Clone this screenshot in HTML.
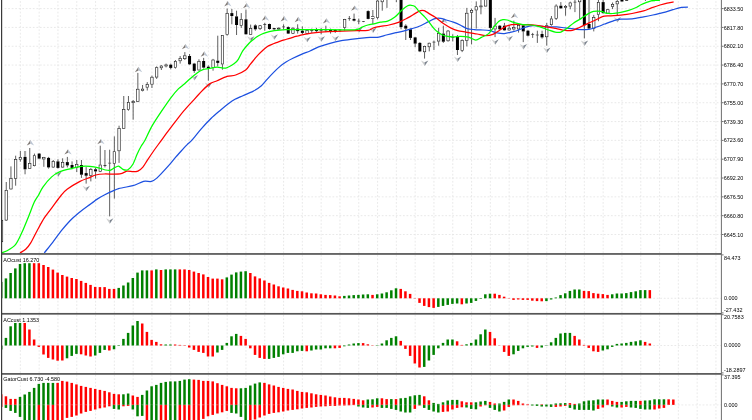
<!DOCTYPE html>
<html><head><meta charset="utf-8"><title>chart</title>
<style>html,body{margin:0;padding:0;background:#fff;overflow:hidden}body{width:752px;height:420px;font-family:"Liberation Sans",sans-serif}svg{display:block}</style>
</head><body>
<svg width="752" height="420" viewBox="0 0 752 420" style="display:block">
<rect x="0" y="0" width="752" height="420" fill="#ffffff"/>
<path d="M20.35 0V420M39.15 0V420M57.95 0V420M76.75 0V420M95.55 0V420M114.35 0V420M133.15 0V420M151.95 0V420M170.75 0V420M189.55 0V420M208.35 0V420M227.15 0V420M245.95 0V420M264.75 0V420M283.55 0V420M302.35 0V420M321.15 0V420M339.95 0V420M358.75 0V420M377.55 0V420M396.35 0V420M415.15 0V420M433.95 0V420M452.75 0V420M471.55 0V420M490.35 0V420M509.15 0V420M527.95 0V420M546.75 0V420M565.55 0V420M584.35 0V420M603.15 0V420M621.95 0V420M640.75 0V420M659.55 0V420M678.35 0V420M697.15 0V420M715.95 0V420M3.545 8.60H721M3.545 27.42H721M3.545 46.25H721M3.545 65.07H721M3.545 83.90H721M3.545 102.72H721M3.545 121.55H721M3.545 140.38H721M3.545 159.20H721M3.545 178.02H721M3.545 196.85H721M3.545 215.67H721M3.545 234.50H721M3.545 298.30H721M3.545 345.50H721M3.545 404.90H721" stroke="#e0e0e0" stroke-width="0.7" stroke-dasharray="1.76 1.765" stroke-dashoffset="-1.1" fill="none"/>
<rect x="23.95" y="151" width="2.2" height="5.90" fill="#a8a8a8"/><rect x="588.05" y="-5" width="2" height="29" fill="#a8a8a8"/>
<path d="M1.55 219V220M1.55 242V243M6.25 182V190M6.25 220.4V221M10.95 166.4V178.3M10.95 189.3V189.6M15.65 155.7V159.3M15.65 178.6V185.7M20.35 151V157.1M20.35 159.9V161.7M25.05 169.3V174.3M29.75 148V163.3M29.75 168.6V168.8M34.45 153.6V155.4M34.45 166V166.4M39.15 153V153.6M39.15 158.6V159.3M43.85 156.9V157.1M43.85 159.3V166.8M48.55 156.9V157.9M48.55 167.4V168.6M53.25 160V161.1M53.25 167.4V167.9M57.95 159.3V161.4M57.95 167.9V168.6M62.65 158.3V162.1M62.65 167.4V167.9M67.35 156.9V162.1M67.35 165.4V167.4M72.05 161.4V165M72.05 167.9V169.3M76.75 160V164M76.75 167.9V172.1M81.45 160V165M81.45 174.7V177.9M86.15 167.1V173.1M86.15 175.7V183.6M90.85 167.9V169.3M90.85 175.7V181.4M95.55 167.9V169.3M95.55 171.4V178.6M100.25 145.7V164.7M100.25 171.7V172.1M104.95 150V165M104.95 165.8V167.4M104.95 165V165.8M109.65 149.7V162.8M109.65 163.4V216.4M109.65 162.8V163.4M114.35 136.4V151.4M114.35 163.6V198.6M119.05 125.7V128.3M119.05 151.1V162.9M123.75 96V109.3M123.75 128.6V128.8M128.45 96V102.1M128.45 109.7V110.7M133.15 100V101.3M133.15 103V119.7M137.85 72.9V88.9M137.85 101.7V102.1M142.55 85V88.8M142.55 90.8V91.4M147.25 82.1V84.3M147.25 87.5V90.5M151.95 75.7V76.9M151.95 84.5V88M156.65 66.4V67.4M156.65 77.4V78.9M161.35 65V65.7M161.35 68.1V70M166.05 63.6V64.6M166.05 66.3V67.4M170.75 63.6V64.7M170.75 67.9V69.3M175.45 60V61.1M175.45 67.9V68.6M180.15 56V58.3M180.15 61.1V63.6M184.85 52.1V55.5M184.85 59V60M189.55 54V56M189.55 64.3V65M194.25 62.9V63.6M194.25 70.9V72.9M198.95 59.3V61M198.95 70.3V70.7M203.65 57.9V61M203.65 67.6V68.6M208.35 65.4V66.7M208.35 68.1V80.7M213.05 58.9V59.7M213.05 67.9V70.7M217.75 35.7V60.7M217.75 62.9V66.4M222.45 35V35.1M222.45 64.3V69.7M227.15 8.6V13.1M227.15 35V35.7M231.85 8.9V13.1M231.85 16V24.3M236.55 10.7V16.4M236.55 25V35M241.25 13.1V19.3M241.25 25.7V27.9M245.95 9.7V19.3M245.95 34.3V34.5M250.65 24.6V28.3M250.65 34.7V34.9M255.35 24.3V25.4M255.35 29.3V30.7M260.05 25V25.4M260.05 29V30M264.75 22.9V24.3M264.75 25V30.7M264.75 24.3V25M269.45 23.6V24M269.45 29V29.7M274.15 27.9V28.1M274.15 29.3V30M278.85 27.1V27.9M278.85 29.4V30M283.55 24.3V26.6M283.55 27.2V29.3M283.55 26.6V27.2M288.25 26.4V27.1M288.25 33.6V34M292.95 27.1V27.9M292.95 33.6V34M297.65 24.3V28.6M297.65 31.1V33.6M302.35 26.4V30.7M302.35 32.9V34M307.05 29.3V30.3M307.05 33.6V34.3M311.75 28.6V29.3M311.75 30.7V32.9M316.45 27.9V29.3M316.45 31.1V32.6M321.15 27.9V30M321.15 30.6V34.3M321.15 30V30.6M325.85 25.7V29.7M325.85 30.3V32.1M325.85 29.7V30.3M330.55 28.6V30M330.55 31.7V33.6M335.25 29.3V30M335.25 31.4V32.9M339.95 29.3V29.7M339.95 30.3V32.1M339.95 29.7V30.3M344.65 18.9V19.3M344.65 27.9V30.7M349.35 16V18.3M349.35 18.9V20.7M349.35 18.3V18.9M354.05 13.6V18.9M354.05 20.7V21.4M358.75 18.6V20.8M358.75 21.4V24.3M358.75 20.8V21.4M363.45 21V21.1M363.45 21.7V22.1M363.45 21.1V21.7M368.15 10.3V11.1M368.15 18.9V19.3M372.85 10V16.4M372.85 18.6V24.3M377.55 -2V0.7M377.55 17.9V19.3M382.25 -5V-3M382.25 2.1V10.7M386.95 -8V-6M386.95 -1V7.9M396.35 -10V-8M396.35 -3V2.1M401.05 -5V-3M401.05 27.1V29.3M405.75 24.3V25.7M405.75 28.6V40M410.45 28.6V29.3M410.45 37.9V40M415.15 36.9V37.4M415.15 43.6V47.1M419.85 42.1V42.9M419.85 51.4V52.1M424.55 45.7V46M424.55 52.1V58.6M429.25 42.6V42.9M429.25 47.1V51.4M433.95 40.7V41.8M433.95 42.4V50M433.95 41.8V42.4M438.65 27.9V33.1M438.65 41.4V45.7M443.35 25.7V33.6M443.35 41.7V42.9M448.05 30V30.7M448.05 41.1V41.7M452.75 34.3V37M452.75 37.6V41.4M452.75 37V37.6M457.45 35V36.4M457.45 50V55M462.15 39.3V40M462.15 50.7V52.1M466.85 7.9V12.9M466.85 40.7V46.4M471.55 8.6V10M471.55 12.6V44.3M476.25 1.4V6.4M476.25 10.3V28.6M480.95 -2V5.6M480.95 7.2V14.3M485.65 -5V-3M485.65 6.4V6.6M490.35 -5V-3M490.35 27.9V30.7M495.05 17.9V25.7M495.05 29.3V37.1M499.75 25V25.7M499.75 29.3V30M504.45 22.9V25.7M504.45 30.3V30.7M509.15 25V27.9M509.15 30.3V30.7M513.85 20.7V27.1M513.85 29.3V30.7M518.55 24.3V25M518.55 29.3V32.6M523.25 24.3V25.4M523.25 31.4V42.1M527.95 30V30.7M527.95 35.7V36.4M532.65 32.9V34.4M532.65 35V37.9M532.65 34.4V35M537.35 30.7V34.7M537.35 35.3V42.9M537.35 34.7V35.3M542.05 30.7V34M542.05 37.4V38.6M546.75 22.9V25.4M546.75 37.1V45.7M551.45 16V18.6M551.45 25V25.7M556.15 4.3V5.7M556.15 18.6V20M560.85 2.1V5.7M560.85 8.3V8.9M565.55 5V6M565.55 7.9V15.7M570.25 1.7V2.6M570.25 6.4V9.3M574.95 -2V1.8M574.95 2.4V12.1M574.95 1.8V2.4M579.65 -5V-3M579.65 2.1V20M584.35 -5V-3M584.35 25.2V38.4M593.75 14.9V17.2M593.75 28.6V31.4M598.45 -2V2.1M598.45 14.9V21.2M603.15 -2V2.1M603.15 13.1V13.7M607.85 8.9V9.4M607.85 13.5V14M612.55 2.5V4.1M612.55 6.7V9.1M617.25 -2V1.1M617.25 4.2V16M621.95 -3V-2M621.95 1.5V1.7M626.65 -3V-2M626.65 0.7V0.9M645.45 -3V-2.5M645.45 -2V0.9M645.45 -2.5V-2" stroke="#1a1a1a" stroke-width="0.7" fill="none"/>
<g fill="#fff" stroke="#111" stroke-width="0.6"><rect x="0.35" y="220.30" width="2.40" height="21.40"/><rect x="5.05" y="190.30" width="2.40" height="29.80"/><rect x="9.75" y="178.60" width="2.40" height="10.40"/><rect x="14.45" y="159.60" width="2.40" height="18.70"/><rect x="19.15" y="157.40" width="2.40" height="2.20"/><rect x="28.55" y="163.60" width="2.40" height="4.70"/><rect x="33.25" y="155.70" width="2.40" height="10.00"/><rect x="42.65" y="157.40" width="2.40" height="1.60"/><rect x="52.05" y="161.40" width="2.40" height="5.70"/><rect x="61.45" y="162.40" width="2.40" height="4.70"/><rect x="75.55" y="164.30" width="2.40" height="3.30"/><rect x="89.65" y="169.60" width="2.40" height="5.80"/><rect x="99.05" y="165.00" width="2.40" height="6.40"/><rect x="113.15" y="151.70" width="2.40" height="11.60"/><rect x="117.85" y="128.60" width="2.40" height="22.20"/><rect x="122.55" y="109.60" width="2.40" height="18.70"/><rect x="127.25" y="102.40" width="2.40" height="7.00"/><rect x="131.95" y="101.60" width="2.40" height="1.10"/><rect x="136.65" y="89.20" width="2.40" height="12.20"/><rect x="141.35" y="89.10" width="2.40" height="1.40"/><rect x="146.05" y="84.60" width="2.40" height="2.60"/><rect x="150.75" y="77.20" width="2.40" height="7.00"/><rect x="155.45" y="67.70" width="2.40" height="9.40"/><rect x="160.15" y="66.00" width="2.40" height="1.80"/><rect x="164.85" y="64.90" width="2.40" height="1.10"/><rect x="174.25" y="61.40" width="2.40" height="6.20"/><rect x="178.95" y="58.60" width="2.40" height="2.20"/><rect x="183.65" y="55.80" width="2.40" height="2.90"/><rect x="197.75" y="61.30" width="2.40" height="8.70"/><rect x="211.85" y="60.00" width="2.40" height="7.60"/><rect x="221.25" y="35.40" width="2.40" height="28.60"/><rect x="225.95" y="13.40" width="2.40" height="21.30"/><rect x="240.05" y="19.60" width="2.40" height="5.80"/><rect x="249.45" y="28.60" width="2.40" height="5.80"/><rect x="258.85" y="25.70" width="2.40" height="3.00"/><rect x="277.65" y="28.20" width="2.40" height="0.90"/><rect x="291.75" y="28.20" width="2.40" height="5.10"/><rect x="305.85" y="30.60" width="2.40" height="2.70"/><rect x="343.45" y="19.60" width="2.40" height="8.00"/><rect x="371.65" y="16.70" width="2.40" height="1.60"/><rect x="376.35" y="1.00" width="2.40" height="16.60"/><rect x="381.05" y="-2.70" width="2.40" height="4.50"/><rect x="385.75" y="-5.70" width="2.40" height="4.40"/><rect x="395.15" y="-7.70" width="2.40" height="4.40"/><rect x="423.35" y="46.30" width="2.40" height="5.50"/><rect x="428.05" y="43.20" width="2.40" height="3.60"/><rect x="437.45" y="33.40" width="2.40" height="7.70"/><rect x="446.85" y="31.00" width="2.40" height="9.80"/><rect x="460.95" y="40.30" width="2.40" height="10.10"/><rect x="465.65" y="13.20" width="2.40" height="27.20"/><rect x="470.35" y="10.30" width="2.40" height="2.00"/><rect x="475.05" y="6.70" width="2.40" height="3.30"/><rect x="479.75" y="5.90" width="2.40" height="1.00"/><rect x="484.45" y="-2.70" width="2.40" height="8.80"/><rect x="493.85" y="26.00" width="2.40" height="3.00"/><rect x="507.95" y="28.20" width="2.40" height="1.80"/><rect x="512.65" y="27.40" width="2.40" height="1.60"/><rect x="517.35" y="25.30" width="2.40" height="3.70"/><rect x="545.55" y="25.70" width="2.40" height="11.10"/><rect x="550.25" y="18.90" width="2.40" height="5.80"/><rect x="554.95" y="6.00" width="2.40" height="12.30"/><rect x="564.35" y="6.30" width="2.40" height="1.30"/><rect x="569.05" y="2.90" width="2.40" height="3.20"/><rect x="578.45" y="-2.70" width="2.40" height="4.50"/><rect x="592.55" y="17.50" width="2.40" height="10.80"/><rect x="597.25" y="2.40" width="2.40" height="12.20"/><rect x="606.65" y="9.70" width="2.40" height="3.50"/><rect x="611.35" y="4.40" width="2.40" height="2.00"/><rect x="616.05" y="1.40" width="2.40" height="2.50"/></g>
<rect x="23.55" y="156.9" width="3.0" height="12.40" fill="#000"/><rect x="37.65" y="153.6" width="3.0" height="5.00" fill="#000"/><rect x="47.05" y="157.9" width="3.0" height="9.50" fill="#000"/><rect x="56.45" y="161.4" width="3.0" height="6.50" fill="#000"/><rect x="65.85" y="162.1" width="3.0" height="3.30" fill="#000"/><rect x="70.55" y="165" width="3.0" height="2.90" fill="#000"/><rect x="79.95" y="165" width="3.0" height="9.70" fill="#000"/><rect x="84.65" y="173.1" width="3.0" height="2.60" fill="#000"/><rect x="94.05" y="169.3" width="3.0" height="2.10" fill="#000"/><rect x="103.45" y="165" width="3.0" height="0.80" fill="#222"/><rect x="108.15" y="162.8" width="3.0" height="0.60" fill="#222"/><rect x="169.25" y="64.7" width="3.0" height="3.20" fill="#000"/><rect x="188.05" y="56" width="3.0" height="8.30" fill="#000"/><rect x="192.75" y="63.6" width="3.0" height="7.30" fill="#000"/><rect x="202.15" y="61" width="3.0" height="6.60" fill="#000"/><rect x="206.85" y="66.7" width="3.0" height="1.40" fill="#000"/><rect x="216.25" y="60.7" width="3.0" height="2.20" fill="#000"/><rect x="230.35" y="13.1" width="3.0" height="2.90" fill="#000"/><rect x="235.05" y="16.4" width="3.0" height="8.60" fill="#000"/><rect x="244.45" y="19.3" width="3.0" height="15.00" fill="#000"/><rect x="253.85" y="25.4" width="3.0" height="3.90" fill="#000"/><rect x="263.25" y="24.3" width="3.0" height="0.70" fill="#222"/><rect x="267.95" y="24" width="3.0" height="5.00" fill="#000"/><rect x="272.65" y="28.1" width="3.0" height="1.20" fill="#000"/><rect x="282.05" y="26.6" width="3.0" height="0.60" fill="#222"/><rect x="286.75" y="27.1" width="3.0" height="6.50" fill="#000"/><rect x="296.15" y="28.6" width="3.0" height="2.50" fill="#000"/><rect x="300.85" y="30.7" width="3.0" height="2.20" fill="#000"/><rect x="310.25" y="29.3" width="3.0" height="1.40" fill="#000"/><rect x="314.95" y="29.3" width="3.0" height="1.80" fill="#000"/><rect x="319.65" y="30" width="3.0" height="0.60" fill="#222"/><rect x="324.35" y="29.7" width="3.0" height="0.60" fill="#222"/><rect x="329.05" y="30" width="3.0" height="1.70" fill="#000"/><rect x="333.75" y="30" width="3.0" height="1.40" fill="#000"/><rect x="338.45" y="29.7" width="3.0" height="0.60" fill="#222"/><rect x="347.85" y="18.3" width="3.0" height="0.60" fill="#222"/><rect x="352.55" y="18.9" width="3.0" height="1.80" fill="#000"/><rect x="357.25" y="20.8" width="3.0" height="0.60" fill="#222"/><rect x="361.95" y="21.1" width="3.0" height="0.60" fill="#222"/><rect x="366.65" y="11.1" width="3.0" height="7.80" fill="#000"/><rect x="399.55" y="-3" width="3.0" height="30.10" fill="#000"/><rect x="404.25" y="25.7" width="3.0" height="2.90" fill="#000"/><rect x="408.95" y="29.3" width="3.0" height="8.60" fill="#000"/><rect x="413.65" y="37.4" width="3.0" height="6.20" fill="#000"/><rect x="418.35" y="42.9" width="3.0" height="8.50" fill="#000"/><rect x="432.45" y="41.8" width="3.0" height="0.60" fill="#222"/><rect x="441.85" y="33.6" width="3.0" height="8.10" fill="#000"/><rect x="451.25" y="37" width="3.0" height="0.60" fill="#222"/><rect x="455.95" y="36.4" width="3.0" height="13.60" fill="#000"/><rect x="488.85" y="-3" width="3.0" height="30.90" fill="#000"/><rect x="498.25" y="25.7" width="3.0" height="3.60" fill="#000"/><rect x="502.95" y="25.7" width="3.0" height="4.60" fill="#000"/><rect x="521.75" y="25.4" width="3.0" height="6.00" fill="#000"/><rect x="526.45" y="30.7" width="3.0" height="5.00" fill="#000"/><rect x="531.15" y="34.4" width="3.0" height="0.60" fill="#222"/><rect x="535.85" y="34.7" width="3.0" height="0.60" fill="#222"/><rect x="540.55" y="34" width="3.0" height="3.40" fill="#000"/><rect x="559.35" y="5.7" width="3.0" height="2.60" fill="#000"/><rect x="573.45" y="1.8" width="3.0" height="0.60" fill="#222"/><rect x="582.85" y="-3" width="3.0" height="28.20" fill="#000"/><rect x="587.55" y="24" width="3.0" height="4.60" fill="#000"/><rect x="601.65" y="2.1" width="3.0" height="11.00" fill="#000"/><rect x="620.45" y="-2" width="3.0" height="3.50" fill="#000"/><rect x="625.15" y="-2" width="3.0" height="2.70" fill="#000"/><rect x="643.95" y="-2.5" width="3.0" height="0.60" fill="#222"/>
<path d="M30.45 140.10L26.75 145.50L30.45 143.70Z" fill="#807a76"/><path d="M30.45 140.10L34.15 145.50L30.45 143.70Z" fill="#bcc6d4"/><path d="M68.05 149.20L64.35 154.60L68.05 152.80Z" fill="#807a76"/><path d="M68.05 149.20L71.75 154.60L68.05 152.80Z" fill="#bcc6d4"/><path d="M100.95 138.90L97.25 144.30L100.95 142.50Z" fill="#807a76"/><path d="M100.95 138.90L104.65 144.30L100.95 142.50Z" fill="#bcc6d4"/><path d="M138.55 66.80L134.85 72.20L138.55 70.40Z" fill="#807a76"/><path d="M138.55 66.80L142.25 72.20L138.55 70.40Z" fill="#bcc6d4"/><path d="M185.55 43.90L181.85 49.30L185.55 47.50Z" fill="#807a76"/><path d="M185.55 43.90L189.25 49.30L185.55 47.50Z" fill="#bcc6d4"/><path d="M204.35 51.30L200.65 56.70L204.35 54.90Z" fill="#807a76"/><path d="M204.35 51.30L208.05 56.70L204.35 54.90Z" fill="#bcc6d4"/><path d="M227.85 1.00L224.15 6.40L227.85 4.60Z" fill="#807a76"/><path d="M227.85 1.00L231.55 6.40L227.85 4.60Z" fill="#bcc6d4"/><path d="M246.65 2.90L242.95 8.30L246.65 6.50Z" fill="#807a76"/><path d="M246.65 2.90L250.35 8.30L246.65 6.50Z" fill="#bcc6d4"/><path d="M265.45 15.40L261.75 20.80L265.45 19.00Z" fill="#807a76"/><path d="M265.45 15.40L269.15 20.80L265.45 19.00Z" fill="#bcc6d4"/><path d="M284.25 16.10L280.55 21.50L284.25 19.70Z" fill="#807a76"/><path d="M284.25 16.10L287.95 21.50L284.25 19.70Z" fill="#bcc6d4"/><path d="M298.35 16.80L294.65 22.20L298.35 20.40Z" fill="#807a76"/><path d="M298.35 16.80L302.05 22.20L298.35 20.40Z" fill="#bcc6d4"/><path d="M326.55 18.20L322.85 23.60L326.55 21.80Z" fill="#807a76"/><path d="M326.55 18.20L330.25 23.60L326.55 21.80Z" fill="#bcc6d4"/><path d="M354.75 5.40L351.05 10.80L354.75 9.00Z" fill="#807a76"/><path d="M354.75 5.40L358.45 10.80L354.75 9.00Z" fill="#bcc6d4"/><path d="M444.05 18.20L440.35 23.60L444.05 21.80Z" fill="#807a76"/><path d="M444.05 18.20L447.75 23.60L444.05 21.80Z" fill="#bcc6d4"/><path d="M514.55 12.90L510.85 18.30L514.55 16.50Z" fill="#807a76"/><path d="M514.55 12.90L518.25 18.30L514.55 16.50Z" fill="#bcc6d4"/><path d="M58.05 177.00L54.35 171.50L58.05 173.40Z" fill="#cfd0d0"/><path d="M58.05 177.00L61.75 171.50L58.05 173.40Z" fill="#7e8690"/><path d="M86.25 191.30L82.55 185.80L86.25 187.70Z" fill="#cfd0d0"/><path d="M86.25 191.30L89.95 185.80L86.25 187.70Z" fill="#7e8690"/><path d="M109.75 223.80L106.05 218.30L109.75 220.20Z" fill="#cfd0d0"/><path d="M109.75 223.80L113.45 218.30L109.75 220.20Z" fill="#7e8690"/><path d="M194.35 80.50L190.65 75.00L194.35 76.90Z" fill="#cfd0d0"/><path d="M194.35 80.50L198.05 75.00L194.35 76.90Z" fill="#7e8690"/><path d="M208.45 88.00L204.75 82.50L208.45 84.40Z" fill="#cfd0d0"/><path d="M208.45 88.00L212.15 82.50L208.45 84.40Z" fill="#7e8690"/><path d="M250.75 41.70L247.05 36.20L250.75 38.10Z" fill="#cfd0d0"/><path d="M250.75 41.70L254.45 36.20L250.75 38.10Z" fill="#7e8690"/><path d="M274.25 39.80L270.55 34.30L274.25 36.20Z" fill="#cfd0d0"/><path d="M274.25 39.80L277.95 34.30L274.25 36.20Z" fill="#7e8690"/><path d="M307.15 42.30L303.45 36.80L307.15 38.70Z" fill="#cfd0d0"/><path d="M307.15 42.30L310.85 36.80L307.15 38.70Z" fill="#7e8690"/><path d="M321.25 41.70L317.55 36.20L321.25 38.10Z" fill="#cfd0d0"/><path d="M321.25 41.70L324.95 36.20L321.25 38.10Z" fill="#7e8690"/><path d="M335.35 41.30L331.65 35.80L335.35 37.70Z" fill="#cfd0d0"/><path d="M335.35 41.30L339.05 35.80L335.35 37.70Z" fill="#7e8690"/><path d="M358.85 32.70L355.15 27.20L358.85 29.10Z" fill="#cfd0d0"/><path d="M358.85 32.70L362.55 27.20L358.85 29.10Z" fill="#7e8690"/><path d="M372.95 33.10L369.25 27.60L372.95 29.50Z" fill="#cfd0d0"/><path d="M372.95 33.10L376.65 27.60L372.95 29.50Z" fill="#7e8690"/><path d="M424.65 65.90L420.95 60.40L424.65 62.30Z" fill="#cfd0d0"/><path d="M424.65 65.90L428.35 60.40L424.65 62.30Z" fill="#7e8690"/><path d="M457.55 62.00L453.85 56.50L457.55 58.40Z" fill="#cfd0d0"/><path d="M457.55 62.00L461.25 56.50L457.55 58.40Z" fill="#7e8690"/><path d="M495.15 44.80L491.45 39.30L495.15 41.20Z" fill="#cfd0d0"/><path d="M495.15 44.80L498.85 39.30L495.15 41.20Z" fill="#7e8690"/><path d="M509.25 41.30L505.55 35.80L509.25 37.70Z" fill="#cfd0d0"/><path d="M509.25 41.30L512.95 35.80L509.25 37.70Z" fill="#7e8690"/><path d="M523.35 49.40L519.65 43.90L523.35 45.80Z" fill="#cfd0d0"/><path d="M523.35 49.40L527.05 43.90L523.35 45.80Z" fill="#7e8690"/><path d="M546.85 53.10L543.15 47.60L546.85 49.50Z" fill="#cfd0d0"/><path d="M546.85 53.10L550.55 47.60L546.85 49.50Z" fill="#7e8690"/><path d="M584.45 45.90L580.75 40.40L584.45 42.30Z" fill="#cfd0d0"/><path d="M584.45 45.90L588.15 40.40L584.45 42.30Z" fill="#7e8690"/><path d="M617.35 22.60L613.65 17.10L617.35 19.00Z" fill="#cfd0d0"/><path d="M617.35 22.60L621.05 17.10L617.35 19.00Z" fill="#7e8690"/>
<clipPath id="mc"><rect x="0" y="0" width="721" height="253"/></clipPath><g clip-path="url(#mc)">
<path d="M44.3 252.9C45.4 251.5 50.6 245.1 52.9 242.1C55.2 239.1 59.1 233.6 61.4 230.7C63.7 227.8 67.7 223.1 70.0 220.7C72.3 218.3 76.3 214.8 78.6 212.9C80.9 211.0 85.0 207.9 87.1 206.4C89.2 204.9 92.8 202.3 94.0 201.4C95.2 200.5 95.0 200.5 96.4 199.6C97.8 198.7 101.3 196.5 104.3 195.0C107.3 193.5 114.8 189.8 118.6 188.6C122.4 187.4 129.6 186.7 132.9 185.7C136.2 184.7 141.1 182.0 143.6 181.4C146.1 180.8 149.6 181.9 151.4 181.4C153.2 180.9 154.8 180.0 157.1 177.9C159.4 175.8 166.1 168.5 168.6 165.7C171.1 162.9 173.6 159.5 175.7 157.1C177.8 154.7 182.4 149.7 184.0 147.9C185.6 146.1 186.9 144.9 188.0 143.8C189.1 142.7 190.3 141.9 192.1 139.8C193.9 137.7 199.2 131.3 201.7 128.4C204.2 125.5 208.7 120.8 211.2 118.3C213.7 115.8 218.5 111.9 220.7 110.0C222.9 108.1 226.1 105.4 228.0 104.0C229.9 102.6 233.0 100.4 235.0 99.3C237.0 98.2 240.5 96.8 242.9 95.7C245.3 94.6 250.4 92.7 252.9 91.4C255.4 90.1 259.5 87.3 261.4 85.7C263.3 84.1 265.4 81.2 267.1 79.3C268.8 77.4 272.7 73.3 274.4 71.6C276.1 69.9 278.5 67.7 280.0 66.4C281.5 65.1 284.3 63.2 286.0 62.1C287.7 61.0 290.8 59.3 292.9 58.3C295.0 57.3 299.1 55.4 301.4 54.4C303.7 53.4 307.7 52.0 310.0 51.0C312.3 50.0 315.9 47.9 318.6 46.9C321.3 45.9 327.0 44.1 330.0 43.3C333.0 42.5 338.3 41.3 341.4 40.7C344.5 40.1 349.8 39.5 352.9 39.1C356.0 38.7 362.0 38.0 364.3 37.8C366.6 37.6 368.2 37.4 370.0 37.3C371.8 37.2 375.5 37.6 377.7 37.3C379.9 37.0 384.0 35.6 386.3 35.0C388.6 34.4 392.6 33.4 394.9 32.9C397.2 32.4 401.1 31.7 403.4 31.1C405.7 30.5 409.7 29.3 412.0 28.6C414.3 27.9 418.3 26.7 420.6 25.7C422.9 24.7 427.2 22.3 429.1 21.4C431.0 20.5 433.4 19.0 434.9 18.6C436.4 18.2 439.1 18.1 440.6 18.3C442.1 18.5 444.6 19.5 446.3 20.0C448.0 20.5 451.5 21.4 453.4 22.1C455.3 22.8 458.8 24.4 460.6 25.3C462.4 26.2 465.3 28.0 467.1 28.6C468.9 29.2 472.2 29.4 474.3 29.6C476.4 29.8 480.8 29.9 482.9 30.0C485.0 30.1 488.1 30.3 490.0 30.7C491.9 31.1 495.2 32.5 497.1 32.9C499.0 33.3 502.4 33.7 504.3 33.6C506.2 33.5 509.5 32.6 511.4 32.1C513.3 31.6 516.7 30.7 518.6 30.0C520.5 29.3 523.8 27.7 525.7 27.1C527.6 26.5 531.0 25.8 532.9 25.7C534.8 25.6 538.1 25.8 540.0 26.0C541.9 26.2 544.9 26.8 547.1 26.9C549.3 27.0 554.2 26.8 556.6 26.9C559.0 27.0 562.4 27.6 565.1 27.9C567.8 28.2 573.5 29.1 576.6 29.3C579.7 29.5 586.2 29.8 588.7 29.5C591.2 29.2 593.5 28.1 595.6 27.4C597.7 26.7 602.3 24.9 604.7 24.0C607.1 23.1 611.8 21.3 613.9 20.6C616.0 19.9 618.3 19.3 620.7 19.1C623.1 18.9 629.0 19.2 632.1 18.9C635.2 18.6 640.8 17.4 643.6 16.9C646.4 16.4 650.3 15.6 652.9 15.0C655.5 14.4 660.2 13.3 662.9 12.6C665.6 11.9 670.4 10.4 672.9 9.7C675.4 9.0 679.4 7.7 681.4 7.4C683.4 7.1 687.0 7.1 687.9 7.1" stroke="#1c50e0" stroke-width="1.25" fill="none" stroke-linejoin="round" stroke-linecap="butt"/>
<path d="M20.0 252.9C20.8 252.4 24.3 250.6 25.7 249.3C27.1 248.0 29.2 245.4 30.7 242.9C32.2 240.4 35.3 234.0 37.1 230.7C38.9 227.4 42.2 221.1 44.3 217.9C46.4 214.7 50.6 209.5 52.9 206.4C55.2 203.3 59.5 197.3 61.4 195.0C63.3 192.7 64.6 191.1 67.1 189.3C69.6 187.5 76.9 183.0 80.0 181.4C83.1 179.8 87.9 178.3 90.0 177.4C92.1 176.5 93.8 175.5 95.7 175.0C97.6 174.5 101.1 174.1 104.3 174.0C107.5 173.9 117.0 174.3 120.0 173.9C123.0 173.5 125.4 171.4 127.1 171.1C128.8 170.8 131.5 171.7 132.9 171.7C134.3 171.7 136.6 171.7 137.9 171.1C139.2 170.5 141.7 168.5 142.9 167.1C144.1 165.7 145.6 163.0 147.1 160.7C148.6 158.4 152.4 152.7 154.3 150.0C156.2 147.3 159.3 143.2 161.4 140.3C163.5 137.4 167.9 131.4 170.0 128.6C172.1 125.8 175.2 121.7 177.1 119.3C179.0 116.9 181.7 113.4 184.0 110.7C186.3 108.0 191.8 102.1 194.3 99.3C196.8 96.5 200.8 92.1 202.9 90.0C205.0 87.9 208.1 84.8 210.0 83.6C211.9 82.4 214.8 81.7 217.1 80.7C219.4 79.7 224.6 77.2 227.1 76.4C229.6 75.6 233.2 75.9 235.7 75.0C238.2 74.1 243.8 71.4 245.7 70.0C247.6 68.6 248.9 66.1 250.0 64.7C251.1 63.3 253.2 60.7 254.3 59.3C255.4 57.9 257.5 55.6 258.6 54.4C259.7 53.2 261.8 51.2 262.9 50.2C264.0 49.2 266.0 47.4 267.1 46.7C268.2 46.0 270.3 45.1 271.4 44.6C272.5 44.1 274.0 43.5 275.7 42.9C277.4 42.3 282.0 40.6 284.3 39.9C286.6 39.2 291.1 37.8 292.9 37.3C294.7 36.8 296.8 36.3 298.0 36.0C299.2 35.7 300.0 35.2 302.1 34.8C304.2 34.4 310.2 33.3 313.6 32.9C317.0 32.5 324.1 31.9 327.9 31.7C331.7 31.5 338.3 31.2 342.1 31.1C345.9 31.0 353.0 30.8 356.4 30.7C359.8 30.6 365.6 30.8 367.9 30.4C370.2 30.0 371.9 28.4 373.6 27.9C375.3 27.4 378.5 26.8 380.6 26.4C382.7 26.0 386.6 25.6 389.1 25.0C391.6 24.4 396.6 23.0 399.1 22.1C401.6 21.2 405.6 19.0 407.7 17.9C409.8 16.8 413.2 14.6 414.9 13.6C416.6 12.6 419.4 11.1 420.6 10.7C421.8 10.3 423.0 10.3 424.1 10.7C425.2 11.1 427.7 12.7 429.1 13.6C430.5 14.5 433.0 15.8 434.9 17.1C436.8 18.4 441.3 22.2 443.4 23.6C445.5 25.0 448.7 27.0 450.6 27.9C452.5 28.8 455.6 30.1 457.7 30.7C459.8 31.3 464.5 31.8 466.0 32.1C467.5 32.4 467.1 32.3 468.6 32.6C470.1 32.9 474.8 33.6 477.1 34.0C479.4 34.4 483.6 35.7 485.7 35.7C487.8 35.7 491.0 35.1 492.9 34.3C494.8 33.5 498.3 31.1 500.0 30.0C501.7 28.9 504.2 27.1 505.7 26.4C507.2 25.7 509.9 24.9 511.4 24.6C512.9 24.3 515.2 24.3 517.1 24.3C519.0 24.3 523.4 24.5 525.7 24.6C528.0 24.7 532.0 24.8 534.3 25.0C536.6 25.2 540.3 26.0 542.9 26.4C545.5 26.8 552.2 27.8 554.0 28.1C555.8 28.4 555.1 28.3 556.6 28.6C558.1 28.9 563.0 30.2 565.1 30.4C567.2 30.6 570.4 30.7 572.3 30.3C574.2 29.9 577.3 28.4 579.4 27.5C581.5 26.6 585.8 24.4 588.0 23.4C590.2 22.4 593.7 20.9 595.6 20.0C597.5 19.1 600.6 17.2 602.4 16.6C604.2 16.0 606.9 16.0 609.3 15.8C611.7 15.6 617.7 15.4 620.7 15.1C623.7 14.8 629.0 14.1 632.1 13.5C635.2 12.9 641.0 11.6 643.6 10.9C646.2 10.2 649.2 8.7 651.4 7.9C653.6 7.1 657.9 5.6 660.0 5.0C662.1 4.4 665.3 3.5 667.1 3.1C668.9 2.7 672.7 2.1 673.6 1.9" stroke="#ff0000" stroke-width="1.25" fill="none" stroke-linejoin="round" stroke-linecap="butt"/>
<path d="M1.4 252.9C2.2 252.6 5.2 251.8 7.1 250.7C9.0 249.6 13.8 246.6 15.7 244.3C17.6 242.0 19.7 237.3 21.4 233.6C23.1 229.9 26.9 220.6 28.6 216.4C30.3 212.2 33.0 205.0 34.3 202.1C35.6 199.2 37.5 197.0 38.6 195.0C39.7 193.0 41.2 189.5 42.9 187.1C44.6 184.7 49.1 179.2 51.4 177.1C53.7 175.0 57.3 172.8 60.0 171.7C62.7 170.6 68.5 169.3 71.4 168.6C74.3 167.9 78.9 166.7 81.4 166.4C83.9 166.1 87.7 166.2 90.0 166.4C92.3 166.6 96.5 167.4 98.6 167.9C100.7 168.4 104.2 169.7 105.7 170.0C107.2 170.3 108.9 170.6 110.0 170.3C111.1 170.0 113.2 168.5 114.3 167.9C115.4 167.3 117.5 165.9 118.6 166.1C119.7 166.3 121.7 168.8 122.9 169.3C124.1 169.8 126.6 170.4 127.9 169.7C129.2 169.0 131.7 166.4 132.9 164.3C134.1 162.2 136.0 156.8 137.1 154.3C138.2 151.8 140.3 147.6 141.4 145.7C142.5 143.8 143.7 142.8 145.0 140.3C146.3 137.8 149.2 131.0 151.4 127.1C153.6 123.2 158.7 115.4 161.4 111.4C164.1 107.4 169.1 100.1 171.4 97.1C173.7 94.1 176.9 90.3 178.6 88.6C180.3 86.9 182.7 85.4 184.0 84.3C185.3 83.2 186.9 81.5 188.6 80.0C190.3 78.5 195.2 74.3 197.1 72.9C199.0 71.5 201.4 70.2 202.9 69.6C204.4 69.0 206.7 68.9 208.6 68.6C210.5 68.3 214.8 67.2 217.1 67.1C219.4 67.0 223.4 68.6 225.7 68.1C228.0 67.6 232.6 64.8 234.3 63.6C236.0 62.4 237.2 61.0 238.3 59.3C239.4 57.6 241.4 52.9 242.9 50.7C244.4 48.5 247.9 44.5 249.3 43.0C250.7 41.5 252.3 40.4 253.5 39.4C254.7 38.4 257.2 36.6 258.6 35.8C260.0 35.0 262.2 33.9 264.3 33.2C266.4 32.5 271.4 31.2 274.3 30.7C277.2 30.2 283.1 29.7 285.7 29.6C288.3 29.5 290.3 29.6 294.0 29.6C297.7 29.6 307.2 29.7 313.6 29.7C320.0 29.7 336.4 29.8 342.1 29.8C347.8 29.8 353.7 30.1 356.4 29.7C359.1 29.3 360.6 27.7 362.1 27.1C363.6 26.5 366.2 25.5 367.9 25.0C369.6 24.5 373.3 24.0 375.0 23.6C376.7 23.2 378.9 22.4 380.6 22.1C382.3 21.8 385.8 21.8 387.7 21.1C389.6 20.4 393.0 18.6 394.9 17.1C396.8 15.6 400.3 11.5 402.0 10.0C403.7 8.5 406.5 6.3 407.7 5.7C408.9 5.1 410.3 5.2 411.3 5.3C412.3 5.4 413.9 5.6 414.9 6.4C415.9 7.2 417.8 10.0 419.1 11.4C420.4 12.8 423.6 15.7 424.9 17.1C426.2 18.5 428.0 20.7 429.1 22.1C430.2 23.5 432.3 26.6 433.4 27.9C434.5 29.2 436.6 31.2 437.7 32.1C438.8 33.0 440.7 34.1 442.0 34.7C443.3 35.3 446.2 36.1 447.7 36.4C449.2 36.7 451.7 36.9 453.4 36.9C455.1 36.9 458.6 36.4 460.6 36.4C462.6 36.4 466.6 36.6 468.6 37.1C470.6 37.6 474.0 40.0 475.7 40.0C477.4 40.0 479.7 38.3 481.4 37.4C483.1 36.5 486.9 35.1 488.6 33.6C490.3 32.1 493.0 28.0 494.3 26.4C495.6 24.8 497.5 22.3 498.6 21.4C499.7 20.5 501.8 19.9 502.9 19.7C504.0 19.5 505.6 19.6 507.1 20.0C508.6 20.4 512.2 22.0 514.3 22.6C516.4 23.2 520.6 24.3 522.9 24.6C525.2 24.9 529.1 24.7 531.4 25.0C533.7 25.3 537.7 26.2 540.0 26.9C542.3 27.6 546.6 29.3 548.6 30.0C550.6 30.7 553.5 31.8 555.1 32.1C556.7 32.4 559.4 32.6 560.9 32.1C562.4 31.6 564.9 29.8 566.6 28.6C568.3 27.4 571.8 24.2 573.7 22.9C575.6 21.6 579.0 19.8 580.9 18.6C582.8 17.4 586.3 14.9 588.0 13.9C589.7 12.9 591.7 11.7 593.5 11.4C595.3 11.1 599.6 11.2 601.3 11.4C603.0 11.6 604.4 12.8 605.9 13.1C607.4 13.4 610.7 13.6 612.7 13.5C614.7 13.4 618.6 12.7 620.7 12.3C622.8 11.9 626.6 11.0 628.7 10.3C630.8 9.6 635.1 7.9 636.7 7.2C638.3 6.5 639.7 5.4 640.9 4.8C642.1 4.2 644.6 3.1 646.0 2.6C647.4 2.1 649.9 1.1 651.1 0.8C652.3 0.5 653.8 0.5 655.0 0.5C656.2 0.4 659.2 0.3 659.9 0.3" stroke="#00ff00" stroke-width="1.25" fill="none" stroke-linejoin="round" stroke-linecap="butt"/>
</g>
<rect x="-0.03" y="281.90" width="2.5" height="16.40" fill="#008000"/><rect x="-0.03" y="345.50" width="2.5" height="4.00" fill="#008000"/><rect x="4.67" y="278.40" width="2.5" height="19.90" fill="#008000"/><rect x="4.67" y="337.90" width="2.5" height="7.60" fill="#008000"/><rect x="9.37" y="273.00" width="2.5" height="25.30" fill="#008000"/><rect x="9.37" y="326.30" width="2.5" height="19.20" fill="#008000"/><rect x="14.07" y="268.40" width="2.5" height="29.90" fill="#008000"/><rect x="14.07" y="323.00" width="2.5" height="22.50" fill="#008000"/><rect x="18.77" y="264.00" width="2.5" height="34.30" fill="#008000"/><rect x="18.77" y="323.00" width="2.5" height="22.50" fill="#008000"/><rect x="23.47" y="263.20" width="2.5" height="35.10" fill="#008000"/><rect x="23.47" y="323.00" width="2.5" height="22.50" fill="#ff0000"/><rect x="28.17" y="263.20" width="2.5" height="35.10" fill="#008000"/><rect x="28.17" y="329.50" width="2.5" height="16.00" fill="#ff0000"/><rect x="32.87" y="263.20" width="2.5" height="35.10" fill="#ff0000"/><rect x="32.87" y="339.50" width="2.5" height="6.00" fill="#ff0000"/><rect x="37.57" y="263.20" width="2.5" height="35.10" fill="#ff0000"/><rect x="37.57" y="345.50" width="2.5" height="1.40" fill="#ff0000"/><rect x="42.27" y="265.00" width="2.5" height="33.30" fill="#ff0000"/><rect x="42.27" y="345.50" width="2.5" height="9.00" fill="#ff0000"/><rect x="46.97" y="267.00" width="2.5" height="31.30" fill="#ff0000"/><rect x="46.97" y="345.50" width="2.5" height="12.40" fill="#ff0000"/><rect x="51.67" y="269.60" width="2.5" height="28.70" fill="#ff0000"/><rect x="51.67" y="345.50" width="2.5" height="14.00" fill="#ff0000"/><rect x="56.37" y="272.60" width="2.5" height="25.70" fill="#ff0000"/><rect x="56.37" y="345.50" width="2.5" height="15.20" fill="#ff0000"/><rect x="61.07" y="275.00" width="2.5" height="23.30" fill="#ff0000"/><rect x="61.07" y="345.50" width="2.5" height="15.00" fill="#ff0000"/><rect x="65.77" y="276.60" width="2.5" height="21.70" fill="#ff0000"/><rect x="65.77" y="345.50" width="2.5" height="12.80" fill="#008000"/><rect x="70.47" y="278.00" width="2.5" height="20.30" fill="#ff0000"/><rect x="70.47" y="345.50" width="2.5" height="10.40" fill="#008000"/><rect x="75.17" y="279.00" width="2.5" height="19.30" fill="#ff0000"/><rect x="75.17" y="345.50" width="2.5" height="8.40" fill="#008000"/><rect x="79.87" y="280.90" width="2.5" height="17.40" fill="#ff0000"/><rect x="79.87" y="345.50" width="2.5" height="8.80" fill="#ff0000"/><rect x="84.57" y="282.90" width="2.5" height="15.40" fill="#ff0000"/><rect x="84.57" y="345.50" width="2.5" height="10.00" fill="#ff0000"/><rect x="89.27" y="284.90" width="2.5" height="13.40" fill="#ff0000"/><rect x="89.27" y="345.50" width="2.5" height="11.00" fill="#ff0000"/><rect x="93.97" y="286.90" width="2.5" height="11.40" fill="#ff0000"/><rect x="93.97" y="345.50" width="2.5" height="10.00" fill="#008000"/><rect x="98.67" y="287.10" width="2.5" height="11.20" fill="#ff0000"/><rect x="98.67" y="345.50" width="2.5" height="7.40" fill="#008000"/><rect x="103.37" y="287.10" width="2.5" height="11.20" fill="#ff0000"/><rect x="103.37" y="345.50" width="2.5" height="4.40" fill="#008000"/><rect x="108.07" y="288.90" width="2.5" height="9.40" fill="#ff0000"/><rect x="108.07" y="345.50" width="2.5" height="5.00" fill="#ff0000"/><rect x="112.77" y="288.90" width="2.5" height="9.40" fill="#ff0000"/><rect x="112.77" y="345.50" width="2.5" height="3.80" fill="#008000"/><rect x="117.47" y="287.90" width="2.5" height="10.40" fill="#008000"/><rect x="117.47" y="345.00" width="2.5" height="0.50" fill="#008000"/><rect x="122.17" y="285.50" width="2.5" height="12.80" fill="#008000"/><rect x="122.17" y="338.90" width="2.5" height="6.60" fill="#008000"/><rect x="126.87" y="282.50" width="2.5" height="15.80" fill="#008000"/><rect x="126.87" y="332.90" width="2.5" height="12.60" fill="#008000"/><rect x="131.57" y="278.00" width="2.5" height="20.30" fill="#008000"/><rect x="131.57" y="325.50" width="2.5" height="20.00" fill="#008000"/><rect x="136.27" y="272.60" width="2.5" height="25.70" fill="#008000"/><rect x="136.27" y="321.00" width="2.5" height="24.50" fill="#008000"/><rect x="140.97" y="270.40" width="2.5" height="27.90" fill="#008000"/><rect x="140.97" y="323.50" width="2.5" height="22.00" fill="#ff0000"/><rect x="145.67" y="270.40" width="2.5" height="27.90" fill="#008000"/><rect x="145.67" y="331.90" width="2.5" height="13.60" fill="#ff0000"/><rect x="150.37" y="270.40" width="2.5" height="27.90" fill="#ff0000"/><rect x="150.37" y="339.90" width="2.5" height="5.60" fill="#ff0000"/><rect x="155.07" y="269.40" width="2.5" height="28.90" fill="#008000"/><rect x="155.07" y="341.90" width="2.5" height="3.60" fill="#ff0000"/><rect x="159.77" y="270.00" width="2.5" height="28.30" fill="#ff0000"/><rect x="159.77" y="344.30" width="2.5" height="1.20" fill="#ff0000"/><rect x="164.47" y="269.40" width="2.5" height="28.90" fill="#008000"/><rect x="164.47" y="344.50" width="2.5" height="1.00" fill="#008000"/><rect x="169.17" y="269.40" width="2.5" height="28.90" fill="#008000"/><rect x="169.17" y="344.50" width="2.5" height="1.00" fill="#008000"/><rect x="173.87" y="269.40" width="2.5" height="28.90" fill="#008000"/><rect x="173.87" y="344.50" width="2.5" height="1.00" fill="#ff0000"/><rect x="178.57" y="269.40" width="2.5" height="28.90" fill="#ff0000"/><rect x="178.57" y="344.90" width="2.5" height="0.60" fill="#ff0000"/><rect x="183.27" y="269.40" width="2.5" height="28.90" fill="#ff0000"/><rect x="183.27" y="345.10" width="2.5" height="0.40" fill="#ff0000"/><rect x="187.97" y="270.00" width="2.5" height="28.30" fill="#ff0000"/><rect x="187.97" y="345.50" width="2.5" height="2.00" fill="#ff0000"/><rect x="192.67" y="271.60" width="2.5" height="26.70" fill="#ff0000"/><rect x="192.67" y="345.50" width="2.5" height="4.40" fill="#ff0000"/><rect x="197.37" y="273.00" width="2.5" height="25.30" fill="#ff0000"/><rect x="197.37" y="345.50" width="2.5" height="6.40" fill="#ff0000"/><rect x="202.07" y="274.40" width="2.5" height="23.90" fill="#ff0000"/><rect x="202.07" y="345.50" width="2.5" height="7.40" fill="#ff0000"/><rect x="206.77" y="277.00" width="2.5" height="21.30" fill="#ff0000"/><rect x="206.77" y="345.50" width="2.5" height="11.00" fill="#ff0000"/><rect x="211.47" y="278.60" width="2.5" height="19.70" fill="#ff0000"/><rect x="211.47" y="345.50" width="2.5" height="11.00" fill="#ff0000"/><rect x="216.17" y="278.60" width="2.5" height="19.70" fill="#ff0000"/><rect x="216.17" y="345.50" width="2.5" height="7.00" fill="#008000"/><rect x="220.87" y="279.30" width="2.5" height="19.00" fill="#ff0000"/><rect x="220.87" y="345.50" width="2.5" height="4.40" fill="#008000"/><rect x="225.57" y="277.40" width="2.5" height="20.90" fill="#008000"/><rect x="225.57" y="342.90" width="2.5" height="2.60" fill="#008000"/><rect x="230.27" y="274.60" width="2.5" height="23.70" fill="#008000"/><rect x="230.27" y="336.30" width="2.5" height="9.20" fill="#008000"/><rect x="234.97" y="272.40" width="2.5" height="25.90" fill="#008000"/><rect x="234.97" y="333.90" width="2.5" height="11.60" fill="#008000"/><rect x="239.67" y="271.60" width="2.5" height="26.70" fill="#008000"/><rect x="239.67" y="335.90" width="2.5" height="9.60" fill="#ff0000"/><rect x="244.37" y="271.20" width="2.5" height="27.10" fill="#008000"/><rect x="244.37" y="338.90" width="2.5" height="6.60" fill="#ff0000"/><rect x="249.07" y="273.00" width="2.5" height="25.30" fill="#ff0000"/><rect x="249.07" y="345.50" width="2.5" height="2.80" fill="#ff0000"/><rect x="253.77" y="276.40" width="2.5" height="21.90" fill="#ff0000"/><rect x="253.77" y="345.50" width="2.5" height="9.40" fill="#ff0000"/><rect x="258.47" y="278.40" width="2.5" height="19.90" fill="#ff0000"/><rect x="258.47" y="345.50" width="2.5" height="12.40" fill="#ff0000"/><rect x="263.17" y="280.50" width="2.5" height="17.80" fill="#ff0000"/><rect x="263.17" y="345.50" width="2.5" height="13.40" fill="#ff0000"/><rect x="267.87" y="282.90" width="2.5" height="15.40" fill="#ff0000"/><rect x="267.87" y="345.50" width="2.5" height="13.40" fill="#008000"/><rect x="272.57" y="284.50" width="2.5" height="13.80" fill="#ff0000"/><rect x="272.57" y="345.50" width="2.5" height="12.40" fill="#008000"/><rect x="277.27" y="286.30" width="2.5" height="12.00" fill="#ff0000"/><rect x="277.27" y="345.50" width="2.5" height="11.40" fill="#008000"/><rect x="281.97" y="287.50" width="2.5" height="10.80" fill="#ff0000"/><rect x="281.97" y="345.50" width="2.5" height="8.80" fill="#008000"/><rect x="286.67" y="288.50" width="2.5" height="9.80" fill="#ff0000"/><rect x="286.67" y="345.50" width="2.5" height="7.40" fill="#008000"/><rect x="291.37" y="289.90" width="2.5" height="8.40" fill="#ff0000"/><rect x="291.37" y="345.50" width="2.5" height="7.40" fill="#008000"/><rect x="296.07" y="290.90" width="2.5" height="7.40" fill="#ff0000"/><rect x="296.07" y="345.50" width="2.5" height="5.80" fill="#008000"/><rect x="300.77" y="291.30" width="2.5" height="7.00" fill="#ff0000"/><rect x="300.77" y="345.50" width="2.5" height="5.40" fill="#008000"/><rect x="305.47" y="292.50" width="2.5" height="5.80" fill="#ff0000"/><rect x="305.47" y="345.50" width="2.5" height="5.80" fill="#ff0000"/><rect x="310.17" y="293.30" width="2.5" height="5.00" fill="#ff0000"/><rect x="310.17" y="345.50" width="2.5" height="5.00" fill="#008000"/><rect x="314.87" y="293.50" width="2.5" height="4.80" fill="#ff0000"/><rect x="314.87" y="345.50" width="2.5" height="4.00" fill="#008000"/><rect x="319.57" y="294.30" width="2.5" height="4.00" fill="#ff0000"/><rect x="319.57" y="345.50" width="2.5" height="4.00" fill="#008000"/><rect x="324.27" y="294.90" width="2.5" height="3.40" fill="#ff0000"/><rect x="324.27" y="345.50" width="2.5" height="2.80" fill="#008000"/><rect x="328.97" y="295.10" width="2.5" height="3.20" fill="#ff0000"/><rect x="328.97" y="345.50" width="2.5" height="2.80" fill="#008000"/><rect x="333.67" y="295.50" width="2.5" height="2.80" fill="#ff0000"/><rect x="333.67" y="345.50" width="2.5" height="2.80" fill="#ff0000"/><rect x="338.37" y="296.30" width="2.5" height="2.00" fill="#ff0000"/><rect x="338.37" y="345.50" width="2.5" height="2.40" fill="#ff0000"/><rect x="343.07" y="295.90" width="2.5" height="2.40" fill="#008000"/><rect x="343.07" y="345.50" width="2.5" height="0.80" fill="#008000"/><rect x="347.77" y="295.50" width="2.5" height="2.80" fill="#008000"/><rect x="347.77" y="344.50" width="2.5" height="1.00" fill="#008000"/><rect x="352.47" y="295.10" width="2.5" height="3.20" fill="#008000"/><rect x="352.47" y="343.50" width="2.5" height="2.00" fill="#008000"/><rect x="357.17" y="294.90" width="2.5" height="3.40" fill="#008000"/><rect x="357.17" y="343.10" width="2.5" height="2.40" fill="#008000"/><rect x="361.87" y="294.50" width="2.5" height="3.80" fill="#008000"/><rect x="361.87" y="343.10" width="2.5" height="2.40" fill="#ff0000"/><rect x="366.57" y="294.30" width="2.5" height="4.00" fill="#008000"/><rect x="366.57" y="344.30" width="2.5" height="1.20" fill="#ff0000"/><rect x="371.27" y="294.90" width="2.5" height="3.40" fill="#ff0000"/><rect x="371.27" y="345.20" width="2.5" height="0.30" fill="#ff0000"/><rect x="375.97" y="294.30" width="2.5" height="4.00" fill="#008000"/><rect x="375.97" y="345.10" width="2.5" height="0.40" fill="#008000"/><rect x="380.67" y="293.50" width="2.5" height="4.80" fill="#008000"/><rect x="380.67" y="343.50" width="2.5" height="2.00" fill="#008000"/><rect x="385.37" y="292.30" width="2.5" height="6.00" fill="#008000"/><rect x="385.37" y="340.30" width="2.5" height="5.20" fill="#008000"/><rect x="390.07" y="290.30" width="2.5" height="8.00" fill="#008000"/><rect x="390.07" y="337.90" width="2.5" height="7.60" fill="#008000"/><rect x="394.77" y="288.30" width="2.5" height="10.00" fill="#008000"/><rect x="394.77" y="336.30" width="2.5" height="9.20" fill="#008000"/><rect x="399.47" y="288.90" width="2.5" height="9.40" fill="#ff0000"/><rect x="399.47" y="340.90" width="2.5" height="4.60" fill="#ff0000"/><rect x="404.17" y="291.30" width="2.5" height="7.00" fill="#ff0000"/><rect x="404.17" y="345.50" width="2.5" height="3.40" fill="#ff0000"/><rect x="408.87" y="293.90" width="2.5" height="4.40" fill="#ff0000"/><rect x="408.87" y="345.50" width="2.5" height="10.40" fill="#ff0000"/><rect x="413.57" y="298.00" width="2.5" height="0.30" fill="#ff0000"/><rect x="413.57" y="345.50" width="2.5" height="18.00" fill="#ff0000"/><rect x="418.27" y="298.30" width="2.5" height="4.60" fill="#ff0000"/><rect x="418.27" y="345.50" width="2.5" height="22.00" fill="#ff0000"/><rect x="422.97" y="298.30" width="2.5" height="7.60" fill="#ff0000"/><rect x="422.97" y="345.50" width="2.5" height="21.40" fill="#008000"/><rect x="427.67" y="298.30" width="2.5" height="8.80" fill="#ff0000"/><rect x="427.67" y="345.50" width="2.5" height="15.00" fill="#008000"/><rect x="432.37" y="298.30" width="2.5" height="9.60" fill="#ff0000"/><rect x="432.37" y="345.50" width="2.5" height="9.40" fill="#008000"/><rect x="437.07" y="298.30" width="2.5" height="8.60" fill="#008000"/><rect x="437.07" y="345.50" width="2.5" height="2.80" fill="#008000"/><rect x="441.77" y="298.30" width="2.5" height="7.60" fill="#008000"/><rect x="441.77" y="342.90" width="2.5" height="2.60" fill="#008000"/><rect x="446.47" y="298.30" width="2.5" height="6.60" fill="#008000"/><rect x="446.47" y="339.50" width="2.5" height="6.00" fill="#008000"/><rect x="451.17" y="298.30" width="2.5" height="5.60" fill="#008000"/><rect x="451.17" y="339.50" width="2.5" height="6.00" fill="#008000"/><rect x="455.87" y="298.30" width="2.5" height="5.20" fill="#008000"/><rect x="455.87" y="341.30" width="2.5" height="4.20" fill="#ff0000"/><rect x="460.57" y="298.30" width="2.5" height="6.00" fill="#ff0000"/><rect x="460.57" y="344.90" width="2.5" height="0.60" fill="#ff0000"/><rect x="465.27" y="298.30" width="2.5" height="5.20" fill="#008000"/><rect x="465.27" y="344.30" width="2.5" height="1.20" fill="#008000"/><rect x="469.97" y="298.30" width="2.5" height="4.60" fill="#008000"/><rect x="469.97" y="342.90" width="2.5" height="2.60" fill="#008000"/><rect x="474.67" y="298.30" width="2.5" height="2.60" fill="#008000"/><rect x="474.67" y="339.50" width="2.5" height="6.00" fill="#008000"/><rect x="479.37" y="298.30" width="2.5" height="0.60" fill="#008000"/><rect x="479.37" y="334.30" width="2.5" height="11.20" fill="#008000"/><rect x="484.07" y="294.30" width="2.5" height="4.00" fill="#008000"/><rect x="484.07" y="329.50" width="2.5" height="16.00" fill="#008000"/><rect x="488.77" y="293.70" width="2.5" height="4.60" fill="#008000"/><rect x="488.77" y="331.90" width="2.5" height="13.60" fill="#ff0000"/><rect x="493.47" y="293.70" width="2.5" height="4.60" fill="#ff0000"/><rect x="493.47" y="338.30" width="2.5" height="7.20" fill="#ff0000"/><rect x="498.17" y="294.90" width="2.5" height="3.40" fill="#ff0000"/><rect x="498.17" y="345.30" width="2.5" height="0.20" fill="#ff0000"/><rect x="502.87" y="296.70" width="2.5" height="1.60" fill="#ff0000"/><rect x="502.87" y="345.50" width="2.5" height="6.40" fill="#ff0000"/><rect x="507.57" y="298.30" width="2.5" height="0.30" fill="#ff0000"/><rect x="507.57" y="345.50" width="2.5" height="10.40" fill="#ff0000"/><rect x="512.27" y="298.30" width="2.5" height="1.60" fill="#ff0000"/><rect x="512.27" y="345.50" width="2.5" height="8.80" fill="#008000"/><rect x="516.97" y="298.30" width="2.5" height="1.20" fill="#ff0000"/><rect x="516.97" y="345.50" width="2.5" height="5.40" fill="#008000"/><rect x="521.67" y="298.30" width="2.5" height="1.60" fill="#ff0000"/><rect x="521.67" y="345.50" width="2.5" height="2.80" fill="#008000"/><rect x="526.37" y="298.30" width="2.5" height="1.60" fill="#ff0000"/><rect x="526.37" y="345.50" width="2.5" height="1.40" fill="#008000"/><rect x="531.07" y="298.30" width="2.5" height="2.40" fill="#ff0000"/><rect x="531.07" y="345.50" width="2.5" height="1.00" fill="#008000"/><rect x="535.77" y="298.30" width="2.5" height="2.80" fill="#ff0000"/><rect x="535.77" y="345.50" width="2.5" height="2.40" fill="#ff0000"/><rect x="540.47" y="298.30" width="2.5" height="3.00" fill="#ff0000"/><rect x="540.47" y="345.50" width="2.5" height="2.00" fill="#008000"/><rect x="545.17" y="298.30" width="2.5" height="2.80" fill="#008000"/><rect x="545.17" y="345.50" width="2.5" height="0.40" fill="#008000"/><rect x="549.87" y="298.30" width="2.5" height="1.20" fill="#008000"/><rect x="549.87" y="342.30" width="2.5" height="3.20" fill="#008000"/><rect x="554.57" y="297.50" width="2.5" height="0.80" fill="#008000"/><rect x="554.57" y="337.90" width="2.5" height="7.60" fill="#008000"/><rect x="559.27" y="295.10" width="2.5" height="3.20" fill="#008000"/><rect x="559.27" y="333.50" width="2.5" height="12.00" fill="#008000"/><rect x="563.97" y="293.30" width="2.5" height="5.00" fill="#008000"/><rect x="563.97" y="332.90" width="2.5" height="12.60" fill="#008000"/><rect x="568.67" y="290.90" width="2.5" height="7.40" fill="#008000"/><rect x="568.67" y="332.90" width="2.5" height="12.60" fill="#008000"/><rect x="573.37" y="289.50" width="2.5" height="8.80" fill="#008000"/><rect x="573.37" y="335.90" width="2.5" height="9.60" fill="#ff0000"/><rect x="578.07" y="289.50" width="2.5" height="8.80" fill="#008000"/><rect x="578.07" y="339.50" width="2.5" height="6.00" fill="#ff0000"/><rect x="582.77" y="290.90" width="2.5" height="7.40" fill="#ff0000"/><rect x="582.77" y="344.90" width="2.5" height="0.60" fill="#ff0000"/><rect x="587.47" y="291.10" width="2.5" height="7.20" fill="#ff0000"/><rect x="587.47" y="345.50" width="2.5" height="2.40" fill="#ff0000"/><rect x="592.17" y="293.10" width="2.5" height="5.20" fill="#ff0000"/><rect x="592.17" y="345.50" width="2.5" height="5.80" fill="#ff0000"/><rect x="596.87" y="293.70" width="2.5" height="4.60" fill="#ff0000"/><rect x="596.87" y="345.50" width="2.5" height="6.40" fill="#ff0000"/><rect x="601.57" y="294.10" width="2.5" height="4.20" fill="#ff0000"/><rect x="601.57" y="345.50" width="2.5" height="5.00" fill="#008000"/><rect x="606.27" y="294.90" width="2.5" height="3.40" fill="#ff0000"/><rect x="606.27" y="345.50" width="2.5" height="3.80" fill="#008000"/><rect x="610.97" y="294.30" width="2.5" height="4.00" fill="#008000"/><rect x="610.97" y="345.50" width="2.5" height="1.40" fill="#008000"/><rect x="615.67" y="293.50" width="2.5" height="4.80" fill="#008000"/><rect x="615.67" y="343.90" width="2.5" height="1.60" fill="#008000"/><rect x="620.37" y="293.50" width="2.5" height="4.80" fill="#008000"/><rect x="620.37" y="343.50" width="2.5" height="2.00" fill="#008000"/><rect x="625.07" y="293.10" width="2.5" height="5.20" fill="#008000"/><rect x="625.07" y="342.90" width="2.5" height="2.60" fill="#008000"/><rect x="629.77" y="292.10" width="2.5" height="6.20" fill="#008000"/><rect x="629.77" y="341.90" width="2.5" height="3.60" fill="#008000"/><rect x="634.47" y="291.30" width="2.5" height="7.00" fill="#008000"/><rect x="634.47" y="341.30" width="2.5" height="4.20" fill="#008000"/><rect x="639.17" y="290.10" width="2.5" height="8.20" fill="#008000"/><rect x="639.17" y="340.30" width="2.5" height="5.20" fill="#008000"/><rect x="643.87" y="290.10" width="2.5" height="8.20" fill="#008000"/><rect x="643.87" y="341.90" width="2.5" height="3.60" fill="#ff0000"/><rect x="648.57" y="290.10" width="2.5" height="8.20" fill="#ff0000"/><rect x="648.57" y="343.50" width="2.5" height="2.00" fill="#ff0000"/><rect x="-0.03" y="394.30" width="2.5" height="10.60" fill="#ff0000"/><rect x="-0.03" y="404.90" width="2.5" height="2.00" fill="#ff0000"/><rect x="4.67" y="396.30" width="2.5" height="8.60" fill="#ff0000"/><rect x="4.67" y="404.90" width="2.5" height="3.00" fill="#008000"/><rect x="9.37" y="398.90" width="2.5" height="6.00" fill="#ff0000"/><rect x="9.37" y="404.90" width="2.5" height="6.00" fill="#008000"/><rect x="14.07" y="398.90" width="2.5" height="6.00" fill="#ff0000"/><rect x="14.07" y="404.90" width="2.5" height="8.00" fill="#008000"/><rect x="18.77" y="396.90" width="2.5" height="8.00" fill="#008000"/><rect x="18.77" y="404.90" width="2.5" height="12.00" fill="#008000"/><rect x="23.47" y="394.50" width="2.5" height="10.40" fill="#008000"/><rect x="23.47" y="404.90" width="2.5" height="16.00" fill="#008000"/><rect x="28.17" y="391.90" width="2.5" height="13.00" fill="#008000"/><rect x="28.17" y="404.90" width="2.5" height="16.00" fill="#008000"/><rect x="32.87" y="387.90" width="2.5" height="17.00" fill="#008000"/><rect x="32.87" y="404.90" width="2.5" height="16.00" fill="#008000"/><rect x="37.57" y="383.90" width="2.5" height="21.00" fill="#008000"/><rect x="37.57" y="404.90" width="2.5" height="16.00" fill="#ff0000"/><rect x="42.27" y="382.90" width="2.5" height="22.00" fill="#008000"/><rect x="42.27" y="404.90" width="2.5" height="16.00" fill="#008000"/><rect x="46.97" y="382.90" width="2.5" height="22.00" fill="#008000"/><rect x="46.97" y="404.90" width="2.5" height="16.00" fill="#ff0000"/><rect x="51.67" y="382.90" width="2.5" height="22.00" fill="#008000"/><rect x="51.67" y="404.90" width="2.5" height="16.00" fill="#ff0000"/><rect x="56.37" y="382.90" width="2.5" height="22.00" fill="#ff0000"/><rect x="56.37" y="404.90" width="2.5" height="16.00" fill="#ff0000"/><rect x="61.07" y="380.90" width="2.5" height="24.00" fill="#ff0000"/><rect x="61.07" y="404.90" width="2.5" height="16.00" fill="#ff0000"/><rect x="65.77" y="381.60" width="2.5" height="23.30" fill="#ff0000"/><rect x="65.77" y="404.90" width="2.5" height="13.00" fill="#ff0000"/><rect x="70.47" y="382.90" width="2.5" height="22.00" fill="#ff0000"/><rect x="70.47" y="404.90" width="2.5" height="12.00" fill="#ff0000"/><rect x="75.17" y="384.40" width="2.5" height="20.50" fill="#ff0000"/><rect x="75.17" y="404.90" width="2.5" height="10.60" fill="#ff0000"/><rect x="79.87" y="385.90" width="2.5" height="19.00" fill="#ff0000"/><rect x="79.87" y="404.90" width="2.5" height="8.60" fill="#ff0000"/><rect x="84.57" y="386.90" width="2.5" height="18.00" fill="#ff0000"/><rect x="84.57" y="404.90" width="2.5" height="7.00" fill="#ff0000"/><rect x="89.27" y="387.90" width="2.5" height="17.00" fill="#ff0000"/><rect x="89.27" y="404.90" width="2.5" height="6.00" fill="#ff0000"/><rect x="93.97" y="388.90" width="2.5" height="16.00" fill="#ff0000"/><rect x="93.97" y="404.90" width="2.5" height="4.60" fill="#ff0000"/><rect x="98.67" y="389.90" width="2.5" height="15.00" fill="#ff0000"/><rect x="98.67" y="404.90" width="2.5" height="3.40" fill="#ff0000"/><rect x="103.37" y="390.90" width="2.5" height="14.00" fill="#ff0000"/><rect x="103.37" y="404.90" width="2.5" height="2.60" fill="#ff0000"/><rect x="108.07" y="392.30" width="2.5" height="12.60" fill="#ff0000"/><rect x="108.07" y="404.90" width="2.5" height="1.40" fill="#ff0000"/><rect x="112.77" y="393.90" width="2.5" height="11.00" fill="#ff0000"/><rect x="112.77" y="404.90" width="2.5" height="4.00" fill="#008000"/><rect x="117.47" y="394.30" width="2.5" height="10.60" fill="#ff0000"/><rect x="117.47" y="404.90" width="2.5" height="4.60" fill="#008000"/><rect x="122.17" y="394.30" width="2.5" height="10.60" fill="#008000"/><rect x="122.17" y="404.90" width="2.5" height="1.40" fill="#ff0000"/><rect x="126.87" y="393.50" width="2.5" height="11.40" fill="#008000"/><rect x="126.87" y="404.90" width="2.5" height="1.00" fill="#ff0000"/><rect x="131.57" y="395.50" width="2.5" height="9.40" fill="#ff0000"/><rect x="131.57" y="404.90" width="2.5" height="4.60" fill="#008000"/><rect x="136.27" y="396.90" width="2.5" height="8.00" fill="#ff0000"/><rect x="136.27" y="404.90" width="2.5" height="11.40" fill="#008000"/><rect x="140.97" y="394.90" width="2.5" height="10.00" fill="#008000"/><rect x="140.97" y="404.90" width="2.5" height="11.00" fill="#008000"/><rect x="145.67" y="390.50" width="2.5" height="14.40" fill="#008000"/><rect x="145.67" y="404.90" width="2.5" height="16.00" fill="#ff0000"/><rect x="150.37" y="386.30" width="2.5" height="18.60" fill="#008000"/><rect x="150.37" y="404.90" width="2.5" height="16.00" fill="#008000"/><rect x="155.07" y="384.90" width="2.5" height="20.00" fill="#008000"/><rect x="155.07" y="404.90" width="2.5" height="16.00" fill="#008000"/><rect x="159.77" y="382.90" width="2.5" height="22.00" fill="#008000"/><rect x="159.77" y="404.90" width="2.5" height="16.00" fill="#ff0000"/><rect x="164.47" y="381.90" width="2.5" height="23.00" fill="#008000"/><rect x="164.47" y="404.90" width="2.5" height="16.00" fill="#ff0000"/><rect x="169.17" y="381.40" width="2.5" height="23.50" fill="#008000"/><rect x="169.17" y="404.90" width="2.5" height="16.00" fill="#008000"/><rect x="173.87" y="381.40" width="2.5" height="23.50" fill="#008000"/><rect x="173.87" y="404.90" width="2.5" height="16.00" fill="#008000"/><rect x="178.57" y="380.90" width="2.5" height="24.00" fill="#008000"/><rect x="178.57" y="404.90" width="2.5" height="16.00" fill="#ff0000"/><rect x="183.27" y="379.60" width="2.5" height="25.30" fill="#008000"/><rect x="183.27" y="404.90" width="2.5" height="16.00" fill="#ff0000"/><rect x="187.97" y="379.20" width="2.5" height="25.70" fill="#008000"/><rect x="187.97" y="404.90" width="2.5" height="16.00" fill="#ff0000"/><rect x="192.67" y="379.60" width="2.5" height="25.30" fill="#ff0000"/><rect x="192.67" y="404.90" width="2.5" height="16.00" fill="#ff0000"/><rect x="197.37" y="379.90" width="2.5" height="25.00" fill="#ff0000"/><rect x="197.37" y="404.90" width="2.5" height="16.00" fill="#ff0000"/><rect x="202.07" y="380.90" width="2.5" height="24.00" fill="#ff0000"/><rect x="202.07" y="404.90" width="2.5" height="14.00" fill="#ff0000"/><rect x="206.77" y="380.90" width="2.5" height="24.00" fill="#ff0000"/><rect x="206.77" y="404.90" width="2.5" height="11.40" fill="#ff0000"/><rect x="211.47" y="381.40" width="2.5" height="23.50" fill="#ff0000"/><rect x="211.47" y="404.90" width="2.5" height="10.00" fill="#ff0000"/><rect x="216.17" y="383.20" width="2.5" height="21.70" fill="#ff0000"/><rect x="216.17" y="404.90" width="2.5" height="8.60" fill="#ff0000"/><rect x="220.87" y="384.90" width="2.5" height="20.00" fill="#ff0000"/><rect x="220.87" y="404.90" width="2.5" height="7.40" fill="#ff0000"/><rect x="225.57" y="386.30" width="2.5" height="18.60" fill="#ff0000"/><rect x="225.57" y="404.90" width="2.5" height="6.00" fill="#ff0000"/><rect x="230.27" y="387.90" width="2.5" height="17.00" fill="#ff0000"/><rect x="230.27" y="404.90" width="2.5" height="8.00" fill="#008000"/><rect x="234.97" y="388.30" width="2.5" height="16.60" fill="#ff0000"/><rect x="234.97" y="404.90" width="2.5" height="8.60" fill="#008000"/><rect x="239.67" y="388.30" width="2.5" height="16.60" fill="#008000"/><rect x="239.67" y="404.90" width="2.5" height="12.00" fill="#008000"/><rect x="244.37" y="387.90" width="2.5" height="17.00" fill="#008000"/><rect x="244.37" y="404.90" width="2.5" height="16.00" fill="#008000"/><rect x="249.07" y="385.50" width="2.5" height="19.40" fill="#008000"/><rect x="249.07" y="404.90" width="2.5" height="16.00" fill="#ff0000"/><rect x="253.77" y="383.60" width="2.5" height="21.30" fill="#008000"/><rect x="253.77" y="404.90" width="2.5" height="14.60" fill="#ff0000"/><rect x="258.47" y="382.40" width="2.5" height="22.50" fill="#008000"/><rect x="258.47" y="404.90" width="2.5" height="12.60" fill="#ff0000"/><rect x="263.17" y="382.90" width="2.5" height="22.00" fill="#ff0000"/><rect x="263.17" y="404.90" width="2.5" height="10.60" fill="#ff0000"/><rect x="267.87" y="384.40" width="2.5" height="20.50" fill="#ff0000"/><rect x="267.87" y="404.90" width="2.5" height="9.00" fill="#ff0000"/><rect x="272.57" y="385.50" width="2.5" height="19.40" fill="#ff0000"/><rect x="272.57" y="404.90" width="2.5" height="8.00" fill="#ff0000"/><rect x="277.27" y="386.90" width="2.5" height="18.00" fill="#ff0000"/><rect x="277.27" y="404.90" width="2.5" height="7.40" fill="#ff0000"/><rect x="281.97" y="387.90" width="2.5" height="17.00" fill="#ff0000"/><rect x="281.97" y="404.90" width="2.5" height="6.60" fill="#ff0000"/><rect x="286.67" y="388.90" width="2.5" height="16.00" fill="#ff0000"/><rect x="286.67" y="404.90" width="2.5" height="5.60" fill="#ff0000"/><rect x="291.37" y="389.50" width="2.5" height="15.40" fill="#ff0000"/><rect x="291.37" y="404.90" width="2.5" height="5.00" fill="#ff0000"/><rect x="296.07" y="390.90" width="2.5" height="14.00" fill="#ff0000"/><rect x="296.07" y="404.90" width="2.5" height="4.40" fill="#ff0000"/><rect x="300.77" y="391.90" width="2.5" height="13.00" fill="#ff0000"/><rect x="300.77" y="404.90" width="2.5" height="3.60" fill="#ff0000"/><rect x="305.47" y="392.30" width="2.5" height="12.60" fill="#ff0000"/><rect x="305.47" y="404.90" width="2.5" height="3.00" fill="#ff0000"/><rect x="310.17" y="393.30" width="2.5" height="11.60" fill="#ff0000"/><rect x="310.17" y="404.90" width="2.5" height="2.60" fill="#ff0000"/><rect x="314.87" y="394.30" width="2.5" height="10.60" fill="#ff0000"/><rect x="314.87" y="404.90" width="2.5" height="2.00" fill="#ff0000"/><rect x="319.57" y="394.90" width="2.5" height="10.00" fill="#ff0000"/><rect x="319.57" y="404.90" width="2.5" height="1.60" fill="#ff0000"/><rect x="324.27" y="395.50" width="2.5" height="9.40" fill="#ff0000"/><rect x="324.27" y="404.90" width="2.5" height="1.40" fill="#ff0000"/><rect x="328.97" y="396.50" width="2.5" height="8.40" fill="#ff0000"/><rect x="328.97" y="404.90" width="2.5" height="1.00" fill="#ff0000"/><rect x="333.67" y="397.30" width="2.5" height="7.60" fill="#ff0000"/><rect x="333.67" y="404.90" width="2.5" height="1.00" fill="#ff0000"/><rect x="338.37" y="397.90" width="2.5" height="7.00" fill="#ff0000"/><rect x="338.37" y="404.90" width="2.5" height="0.60" fill="#ff0000"/><rect x="343.07" y="397.90" width="2.5" height="7.00" fill="#ff0000"/><rect x="343.07" y="404.90" width="2.5" height="0.60" fill="#ff0000"/><rect x="347.77" y="398.30" width="2.5" height="6.60" fill="#ff0000"/><rect x="347.77" y="404.90" width="2.5" height="0.40" fill="#ff0000"/><rect x="352.47" y="398.90" width="2.5" height="6.00" fill="#ff0000"/><rect x="352.47" y="404.90" width="2.5" height="0.20" fill="#ff0000"/><rect x="357.17" y="399.50" width="2.5" height="5.40" fill="#ff0000"/><rect x="357.17" y="404.90" width="2.5" height="1.60" fill="#008000"/><rect x="361.87" y="400.30" width="2.5" height="4.60" fill="#ff0000"/><rect x="361.87" y="404.90" width="2.5" height="2.60" fill="#008000"/><rect x="366.57" y="399.50" width="2.5" height="5.40" fill="#008000"/><rect x="366.57" y="404.90" width="2.5" height="3.00" fill="#008000"/><rect x="371.27" y="399.30" width="2.5" height="5.60" fill="#008000"/><rect x="371.27" y="404.90" width="2.5" height="2.60" fill="#ff0000"/><rect x="375.97" y="398.30" width="2.5" height="6.60" fill="#008000"/><rect x="375.97" y="404.90" width="2.5" height="2.00" fill="#ff0000"/><rect x="380.67" y="398.30" width="2.5" height="6.60" fill="#ff0000"/><rect x="380.67" y="404.90" width="2.5" height="3.00" fill="#008000"/><rect x="385.37" y="399.10" width="2.5" height="5.80" fill="#ff0000"/><rect x="385.37" y="404.90" width="2.5" height="3.00" fill="#008000"/><rect x="390.07" y="399.10" width="2.5" height="5.80" fill="#008000"/><rect x="390.07" y="404.90" width="2.5" height="4.00" fill="#008000"/><rect x="394.77" y="399.10" width="2.5" height="5.80" fill="#ff0000"/><rect x="394.77" y="404.90" width="2.5" height="5.00" fill="#008000"/><rect x="399.47" y="398.30" width="2.5" height="6.60" fill="#008000"/><rect x="399.47" y="404.90" width="2.5" height="6.60" fill="#008000"/><rect x="404.17" y="397.90" width="2.5" height="7.00" fill="#008000"/><rect x="404.17" y="404.90" width="2.5" height="7.60" fill="#008000"/><rect x="408.87" y="396.30" width="2.5" height="8.60" fill="#008000"/><rect x="408.87" y="404.90" width="2.5" height="7.60" fill="#008000"/><rect x="413.57" y="395.30" width="2.5" height="9.60" fill="#008000"/><rect x="413.57" y="404.90" width="2.5" height="4.00" fill="#ff0000"/><rect x="418.27" y="394.90" width="2.5" height="10.00" fill="#008000"/><rect x="418.27" y="404.90" width="2.5" height="0.60" fill="#ff0000"/><rect x="422.97" y="396.30" width="2.5" height="8.60" fill="#ff0000"/><rect x="422.97" y="404.90" width="2.5" height="3.00" fill="#008000"/><rect x="427.67" y="400.30" width="2.5" height="4.60" fill="#ff0000"/><rect x="427.67" y="404.90" width="2.5" height="5.00" fill="#008000"/><rect x="432.37" y="402.90" width="2.5" height="2.00" fill="#008000"/><rect x="432.37" y="404.90" width="2.5" height="6.60" fill="#008000"/><rect x="437.07" y="403.90" width="2.5" height="1.00" fill="#008000"/><rect x="437.07" y="404.90" width="2.5" height="7.60" fill="#008000"/><rect x="441.77" y="402.30" width="2.5" height="2.60" fill="#008000"/><rect x="441.77" y="404.90" width="2.5" height="7.00" fill="#ff0000"/><rect x="446.47" y="400.50" width="2.5" height="4.40" fill="#008000"/><rect x="446.47" y="404.90" width="2.5" height="6.60" fill="#ff0000"/><rect x="451.17" y="399.90" width="2.5" height="5.00" fill="#008000"/><rect x="451.17" y="404.90" width="2.5" height="4.60" fill="#ff0000"/><rect x="455.87" y="399.90" width="2.5" height="5.00" fill="#008000"/><rect x="455.87" y="404.90" width="2.5" height="3.00" fill="#ff0000"/><rect x="460.57" y="401.30" width="2.5" height="3.60" fill="#ff0000"/><rect x="460.57" y="404.90" width="2.5" height="2.40" fill="#ff0000"/><rect x="465.27" y="402.30" width="2.5" height="2.60" fill="#ff0000"/><rect x="465.27" y="404.90" width="2.5" height="2.60" fill="#008000"/><rect x="469.97" y="402.30" width="2.5" height="2.60" fill="#ff0000"/><rect x="469.97" y="404.90" width="2.5" height="4.00" fill="#008000"/><rect x="474.67" y="402.30" width="2.5" height="2.60" fill="#008000"/><rect x="474.67" y="404.90" width="2.5" height="4.40" fill="#008000"/><rect x="479.37" y="401.50" width="2.5" height="3.40" fill="#008000"/><rect x="479.37" y="404.90" width="2.5" height="1.60" fill="#ff0000"/><rect x="484.07" y="400.90" width="2.5" height="4.00" fill="#008000"/><rect x="484.07" y="404.90" width="2.5" height="0.40" fill="#ff0000"/><rect x="488.77" y="401.90" width="2.5" height="3.00" fill="#ff0000"/><rect x="488.77" y="404.90" width="2.5" height="3.00" fill="#008000"/><rect x="493.47" y="403.50" width="2.5" height="1.40" fill="#ff0000"/><rect x="493.47" y="404.90" width="2.5" height="5.00" fill="#008000"/><rect x="498.17" y="403.50" width="2.5" height="1.40" fill="#008000"/><rect x="498.17" y="404.90" width="2.5" height="6.60" fill="#008000"/><rect x="502.87" y="401.90" width="2.5" height="3.00" fill="#008000"/><rect x="502.87" y="404.90" width="2.5" height="5.60" fill="#ff0000"/><rect x="507.57" y="399.50" width="2.5" height="5.40" fill="#008000"/><rect x="507.57" y="404.90" width="2.5" height="2.00" fill="#ff0000"/><rect x="512.27" y="399.50" width="2.5" height="5.40" fill="#ff0000"/><rect x="512.27" y="404.90" width="2.5" height="0.40" fill="#ff0000"/><rect x="516.97" y="400.90" width="2.5" height="4.00" fill="#ff0000"/><rect x="516.97" y="404.90" width="2.5" height="0.30" fill="#ff0000"/><rect x="521.67" y="403.50" width="2.5" height="1.40" fill="#ff0000"/><rect x="521.67" y="404.90" width="2.5" height="0.30" fill="#ff0000"/><rect x="526.37" y="404.30" width="2.5" height="0.60" fill="#ff0000"/><rect x="526.37" y="404.90" width="2.5" height="0.30" fill="#ff0000"/><rect x="531.07" y="404.50" width="2.5" height="0.40" fill="#008000"/><rect x="531.07" y="404.90" width="2.5" height="0.60" fill="#008000"/><rect x="535.77" y="404.30" width="2.5" height="0.60" fill="#008000"/><rect x="535.77" y="404.90" width="2.5" height="1.00" fill="#008000"/><rect x="540.47" y="404.30" width="2.5" height="0.60" fill="#ff0000"/><rect x="540.47" y="404.90" width="2.5" height="1.60" fill="#008000"/><rect x="545.17" y="404.50" width="2.5" height="0.40" fill="#008000"/><rect x="545.17" y="404.90" width="2.5" height="1.60" fill="#008000"/><rect x="549.87" y="404.30" width="2.5" height="0.60" fill="#008000"/><rect x="549.87" y="404.90" width="2.5" height="2.00" fill="#008000"/><rect x="554.57" y="403.50" width="2.5" height="1.40" fill="#008000"/><rect x="554.57" y="404.90" width="2.5" height="2.00" fill="#ff0000"/><rect x="559.27" y="403.30" width="2.5" height="1.60" fill="#008000"/><rect x="559.27" y="404.90" width="2.5" height="1.60" fill="#ff0000"/><rect x="563.97" y="403.10" width="2.5" height="1.80" fill="#008000"/><rect x="563.97" y="404.90" width="2.5" height="1.00" fill="#ff0000"/><rect x="568.67" y="403.10" width="2.5" height="1.80" fill="#ff0000"/><rect x="568.67" y="404.90" width="2.5" height="3.00" fill="#008000"/><rect x="573.37" y="403.90" width="2.5" height="1.00" fill="#ff0000"/><rect x="573.37" y="404.90" width="2.5" height="4.60" fill="#008000"/><rect x="578.07" y="403.50" width="2.5" height="1.40" fill="#008000"/><rect x="578.07" y="404.90" width="2.5" height="5.00" fill="#008000"/><rect x="582.77" y="401.30" width="2.5" height="3.60" fill="#008000"/><rect x="582.77" y="404.90" width="2.5" height="5.00" fill="#008000"/><rect x="587.47" y="400.50" width="2.5" height="4.40" fill="#008000"/><rect x="587.47" y="404.90" width="2.5" height="5.00" fill="#008000"/><rect x="592.17" y="400.30" width="2.5" height="4.60" fill="#008000"/><rect x="592.17" y="404.90" width="2.5" height="5.60" fill="#008000"/><rect x="596.87" y="399.50" width="2.5" height="5.40" fill="#008000"/><rect x="596.87" y="404.90" width="2.5" height="4.00" fill="#ff0000"/><rect x="601.57" y="399.50" width="2.5" height="5.40" fill="#008000"/><rect x="601.57" y="404.90" width="2.5" height="2.60" fill="#ff0000"/><rect x="606.27" y="399.50" width="2.5" height="5.40" fill="#ff0000"/><rect x="606.27" y="404.90" width="2.5" height="0.20" fill="#ff0000"/><rect x="610.97" y="400.90" width="2.5" height="4.00" fill="#ff0000"/><rect x="610.97" y="404.90" width="2.5" height="1.60" fill="#008000"/><rect x="615.67" y="401.90" width="2.5" height="3.00" fill="#ff0000"/><rect x="615.67" y="404.90" width="2.5" height="2.60" fill="#008000"/><rect x="620.37" y="401.90" width="2.5" height="3.00" fill="#008000"/><rect x="620.37" y="404.90" width="2.5" height="2.60" fill="#ff0000"/><rect x="625.07" y="401.30" width="2.5" height="3.60" fill="#008000"/><rect x="625.07" y="404.90" width="2.5" height="2.00" fill="#ff0000"/><rect x="629.77" y="400.90" width="2.5" height="4.00" fill="#008000"/><rect x="629.77" y="404.90" width="2.5" height="2.60" fill="#008000"/><rect x="634.47" y="400.90" width="2.5" height="4.00" fill="#008000"/><rect x="634.47" y="404.90" width="2.5" height="3.00" fill="#008000"/><rect x="639.17" y="400.90" width="2.5" height="4.00" fill="#ff0000"/><rect x="639.17" y="404.90" width="2.5" height="4.00" fill="#008000"/><rect x="643.87" y="400.50" width="2.5" height="4.40" fill="#008000"/><rect x="643.87" y="404.90" width="2.5" height="4.60" fill="#008000"/><rect x="648.57" y="400.30" width="2.5" height="4.60" fill="#008000"/><rect x="648.57" y="404.90" width="2.5" height="4.60" fill="#008000"/><rect x="653.27" y="399.30" width="2.5" height="5.60" fill="#008000"/><rect x="653.27" y="404.90" width="2.5" height="4.60" fill="#ff0000"/><rect x="657.97" y="399.30" width="2.5" height="5.60" fill="#008000"/><rect x="657.97" y="404.90" width="2.5" height="3.60" fill="#ff0000"/><rect x="662.67" y="399.30" width="2.5" height="5.60" fill="#008000"/><rect x="662.67" y="404.90" width="2.5" height="3.00" fill="#ff0000"/><rect x="667.37" y="399.30" width="2.5" height="5.60" fill="#ff0000"/><rect x="672.07" y="399.50" width="2.5" height="5.40" fill="#ff0000"/>
<path d="M3.545 404.9H721" stroke="#ffffff" stroke-opacity="0.35" stroke-width="0.7" stroke-dasharray="1.76 1.765" stroke-dashoffset="-1.1" fill="none"/>
<rect x="0" y="253.10" width="721.5" height="1.7" fill="#555555"/>
<rect x="0" y="312.95" width="721.5" height="1.7" fill="#555555"/>
<rect x="0" y="373.05" width="721.5" height="1.7" fill="#555555"/>
<rect x="0" y="0" width="1" height="420" fill="#fff"/>
<rect x="1.0" y="0" width="1.2" height="420" fill="#3a3a3a"/>
<rect x="720.9" y="0" width="1.0" height="420" fill="#606060"/>
<rect x="721.9" y="0" width="30.1" height="420" fill="#fff"/>
<path d="M722 8.60H723.6M722 27.42H723.6M722 46.25H723.6M722 65.07H723.6M722 83.90H723.6M722 102.72H723.6M722 121.55H723.6M722 140.38H723.6M722 159.20H723.6M722 178.02H723.6M722 196.85H723.6M722 215.67H723.6M722 234.50H723.6M722 254.90H723.6M722 312.90H723.6M722 314.70H723.6M722 372.90H723.6M722 374.90H723.6" stroke="#333" stroke-width="0.7" fill="none"/>
<g font-family="'Liberation Sans', sans-serif" fill="#000" style="filter:blur(0.22px)"><text transform="translate(723.70 10.70) scale(0.5)" font-size="10.9">6833.50</text><text transform="translate(723.70 29.52) scale(0.5)" font-size="10.9">6817.80</text><text transform="translate(723.70 48.35) scale(0.5)" font-size="10.9">6802.10</text><text transform="translate(723.70 67.17) scale(0.5)" font-size="10.9">6786.40</text><text transform="translate(723.70 86.00) scale(0.5)" font-size="10.9">6770.70</text><text transform="translate(723.70 104.82) scale(0.5)" font-size="10.9">6755.00</text><text transform="translate(723.70 123.65) scale(0.5)" font-size="10.9">6739.30</text><text transform="translate(723.70 142.47) scale(0.5)" font-size="10.9">6723.60</text><text transform="translate(723.70 161.30) scale(0.5)" font-size="10.9">6707.90</text><text transform="translate(723.70 180.12) scale(0.5)" font-size="10.9">6692.20</text><text transform="translate(723.70 198.95) scale(0.5)" font-size="10.9">6676.50</text><text transform="translate(723.70 217.77) scale(0.5)" font-size="10.9">6660.80</text><text transform="translate(723.70 236.60) scale(0.5)" font-size="10.9">6645.10</text><text transform="translate(724.00 259.70) scale(0.5)" font-size="10.9">84.473</text><text transform="translate(724.00 300.00) scale(0.5)" font-size="10.9">0.000</text><text transform="translate(724.00 311.80) scale(0.5)" font-size="10.9">-27.432</text><text transform="translate(724.00 319.40) scale(0.5)" font-size="10.9">20.7583</text><text transform="translate(724.00 346.60) scale(0.5)" font-size="10.9">0.0000</text><text transform="translate(724.00 371.80) scale(0.5)" font-size="10.9">-18.2897</text><text transform="translate(724.00 379.40) scale(0.5)" font-size="10.9">37.395</text><text transform="translate(724.00 406.50) scale(0.5)" font-size="10.9">0.000</text><text transform="translate(3.30 261.60) scale(0.5)" font-size="10.9">AOcust 16.270</text><text transform="translate(3.30 321.60) scale(0.5)" font-size="10.9">ACcust 1.1353</text><text transform="translate(3.30 381.40) scale(0.5)" font-size="10.9">GatorCust 6.730 -4.580</text></g>
</svg>
</body></html>
